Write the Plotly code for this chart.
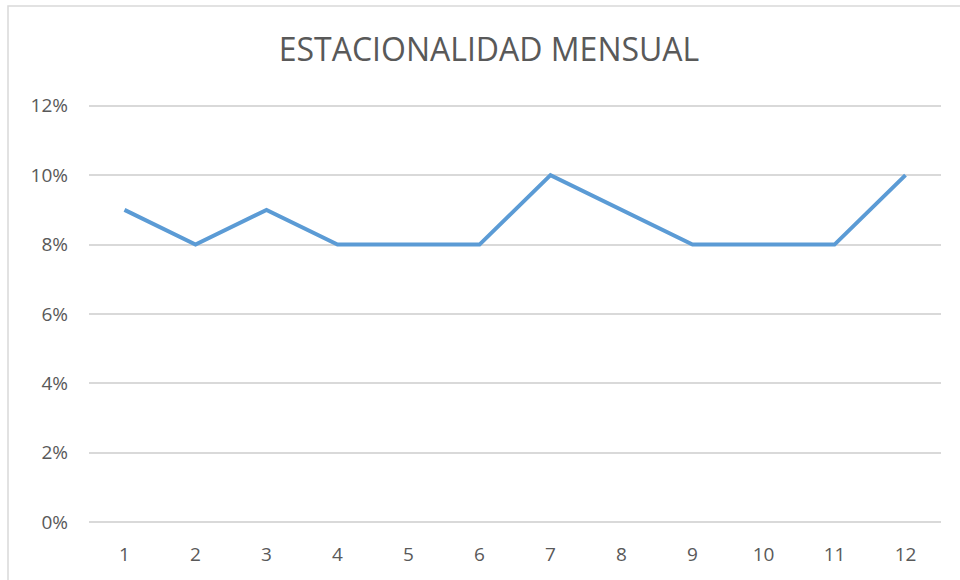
import plotly.graph_objects as go

# Monthly seasonality (share of annual total)
months = [1, 2, 3, 4, 5, 6, 7, 8, 9, 10, 11, 12]
share = [0.09, 0.08, 0.09, 0.08, 0.08, 0.08, 0.10, 0.09, 0.08, 0.08, 0.08, 0.10]
y_ticks = [0, 0.02, 0.04, 0.06, 0.08, 0.10, 0.12]
y_tick_text = ["0%", "2%", "4%", "6%", "8%", "10%", "12%"]

W, H = 960, 580
# small padding on the y range so the 0% and 12% gridlines are drawn
pad = 0.0005
px_per_unit = 416 / 0.12
L, R = 89, 19
T = 106 - pad * px_per_unit
B = 58 - pad * px_per_unit

fig = go.Figure()
fig.add_trace(go.Scatter(
    x=months, y=share, mode="lines",
    line=dict(color="#5B9BD5", width=4, shape="linear"),
    hoverinfo="skip",
))

# Outer chart frame (light grey border)
pw, ph = W - L - R, H - T - B
fig.add_shape(
    type="rect", xref="paper", yref="paper",
    x0=(8 - L) / pw, x1=(W + 5 - L) / pw,
    y0=-(B + 5) / ph, y1=(H - 6.5 - B) / ph,
    line=dict(color="#D9D9D9", width=1.5), fillcolor="rgba(0,0,0,0)",
    layer="below",
)

fig.update_layout(
    width=W, height=H,
    margin=dict(l=L, r=R, t=T, b=B),
    paper_bgcolor="white", plot_bgcolor="white",
    showlegend=False,
    title=dict(
        text="ESTACIONALIDAD MENSUAL",
        x=489 / W, xanchor="center", xref="container",
        y=1 - 50 / H, yanchor="middle", yref="container",
        font=dict(family="Open Sans", size=32, color="#595959"),
    ),
    font=dict(family="Open Sans", color="#595959"),
)
fig.update_xaxes(
    range=[0.5, 12.5], tickmode="array", tickvals=months,
    ticktext=[str(m) for m in months],
    showgrid=False, zeroline=False, showline=False, ticks="",
    tickfont=dict(size=19, color="#595959"), ticklabelstandoff=17,
    fixedrange=True,
)
fig.update_yaxes(
    range=[-pad, 0.12 + pad], tickmode="array", tickvals=y_ticks, ticktext=y_tick_text,
    showgrid=True, gridcolor="#D9D9D9", gridwidth=1.5,
    zeroline=False, showline=False, ticks="",
    tickfont=dict(size=19, color="#595959"), ticklabelstandoff=20,
    fixedrange=True,
)

fig.write_html("out.html", config={"displayModeBar": False})
